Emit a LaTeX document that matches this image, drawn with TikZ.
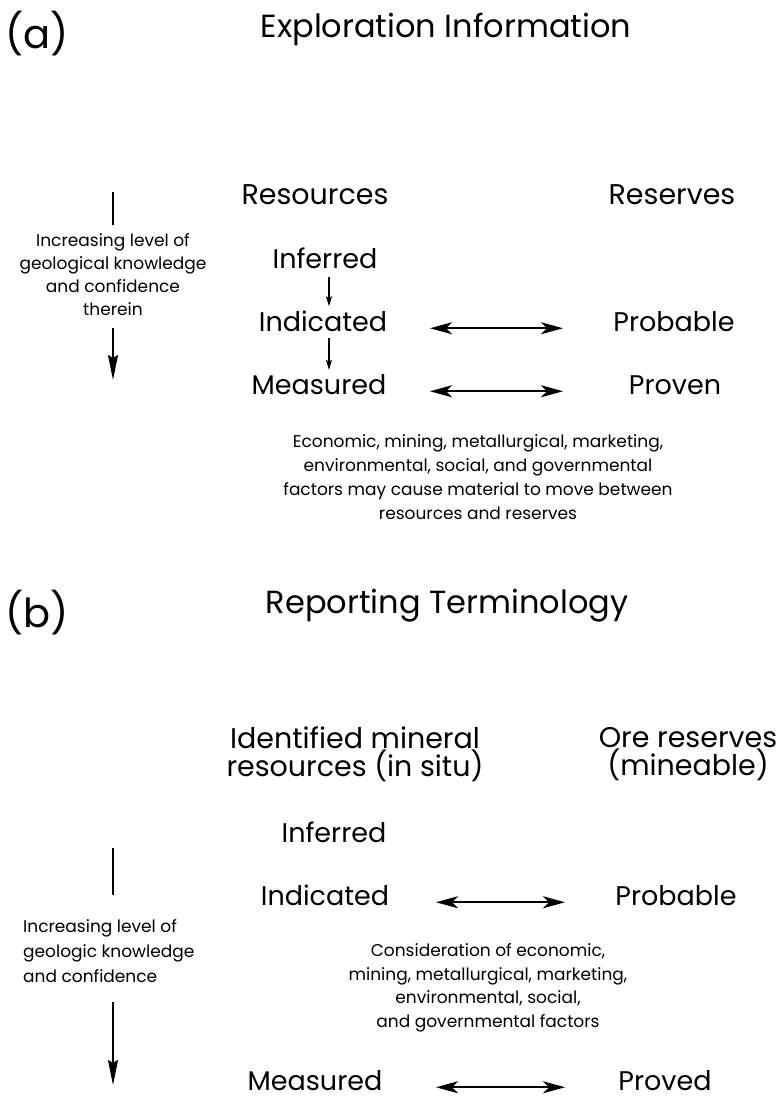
\documentclass[tikz,border=0pt]{standalone}
\usepackage{fontspec}
\setmainfont{Poppins}
\usetikzlibrary{arrows.meta}
\begin{document}
\begin{tikzpicture}[x=1pt,y=-1pt,
  lab/.style={font=\fontsize{40}{40}\selectfont, inner sep=0pt, anchor=base},
  title/.style={font=\fontsize{32}{32}\selectfont, inner sep=0pt, anchor=base},
  head/.style={font=\fontsize{28.5}{28}\selectfont, inner sep=0pt, align=center},
  row/.style={font=\fontsize{27}{27}\selectfont, inner sep=0pt, anchor=base},
  small/.style={font=\fontsize{17}{23}\selectfont, inner sep=0pt},
  dbl/.style={{Stealth[length=22pt,width=12pt,inset=6pt]}-{Stealth[length=22pt,width=12pt,inset=6pt]}, line width=1.6pt},
  down/.style={-{Stealth[length=25pt,width=10pt,inset=3pt]}, line width=1.6pt},
  tinyarr/.style={-{Stealth[length=10pt,width=6pt,inset=2pt]}, line width=1.1pt},
  plain/.style={line width=1.3pt}]
\useasboundingbox (0,0) rectangle (777,1099);

% ---------- (a) ----------
\node[lab] (la) at (37,49) {(a)};
\node[title] (ta) at (446,38) {Exploration Information};
\node[head,anchor=base] (res) at (315,205) {Resources};
\node[head,anchor=base] (rsv) at (672,205) {Reserves};
\node[row] (inf) at (325,269) {Inferred};
\node[row] (ind) at (323,331) {Indicated};
\node[row] (mea) at (319,394) {Measured};
\node[row] (prob) at (674,331) {Probable};
\node[row] (prov) at (675,394) {Proven};

\coordinate (sx) at (329,0);
\draw[tinyarr, shorten <=8pt, shorten >=4pt] (inf.south -| sx) -- (ind.north -| sx);
\draw[tinyarr, shorten <=7pt, shorten >=4pt] (ind.south -| sx) -- (mea.north -| sx);

\coordinate (dx1) at (430,0);
\coordinate (dx2) at (563,0);
\draw[dbl] (ind.mid east -| dx1) -- (prob.mid west -| dx2);
\draw[dbl] (mea.mid east -| dx1) -- (prov.mid west -| dx2);

\node[small,align=center] (lta) at (113,275) {Increasing level of\\geological knowledge\\and confidence\\therein};
\coordinate (lat) at (113,192);
\coordinate (lab1) at (113,380);
\draw[plain, shorten >=9pt] (lat) -- (lta.north);
\draw[down, shorten <=12pt] (lta.south) -- (lab1);

\node[small,align=center,font=\fontsize{17}{24}\selectfont] (pa) at (478,477) {Economic, mining, metallurgical, marketing,\\environmental, social, and governmental\\factors may cause material to move between\\resources and reserves};

% ---------- (b) ----------
\node[lab] (lb) at (37,627) {(b)};
\node[title] (tb) at (447,613) {Reporting Terminology};
\node[head] (idm) at (355,754.5) {Identified mineral\\resources (in situ)};
\node[head] (ore) at (688,754.5) {Ore reserves\\(mineable)};
\node[row] (infb) at (334,842) {Inferred};
\node[row] (indb) at (325,905) {Indicated};
\node[row] (meab) at (315,1090) {Measured};
\node[row] (probb) at (676,905) {Probable};
\node[row] (provb) at (665,1090) {Proved};

\coordinate (ex1) at (436,0);
\coordinate (ex2) at (565,0);
\draw[dbl] (indb.mid east -| ex1) -- (probb.mid west -| ex2);
\draw[dbl] (meab.mid east -| ex1) -- (provb.mid west -| ex2);

\node[small,align=center,font=\fontsize{17}{23.5}\selectfont] (pb) at (488,988) {Consideration of economic,\\mining, metallurgical, marketing,\\environmental, social,\\and governmental factors};

\node[small,align=left,anchor=west,font=\fontsize{17}{25}\selectfont] (ltb) at (23,950.7) {Increasing level of\\geologic knowledge\\and confidence};
\coordinate (lbt) at (113,848);
\coordinate (lbb) at (113,895);
\coordinate (lbs) at (113,1002);
\coordinate (lbe) at (113,1085);
\draw[plain] (lbt) -- (lbb);
\draw[down] (lbs) -- (lbe);
\end{tikzpicture}
\end{document}
